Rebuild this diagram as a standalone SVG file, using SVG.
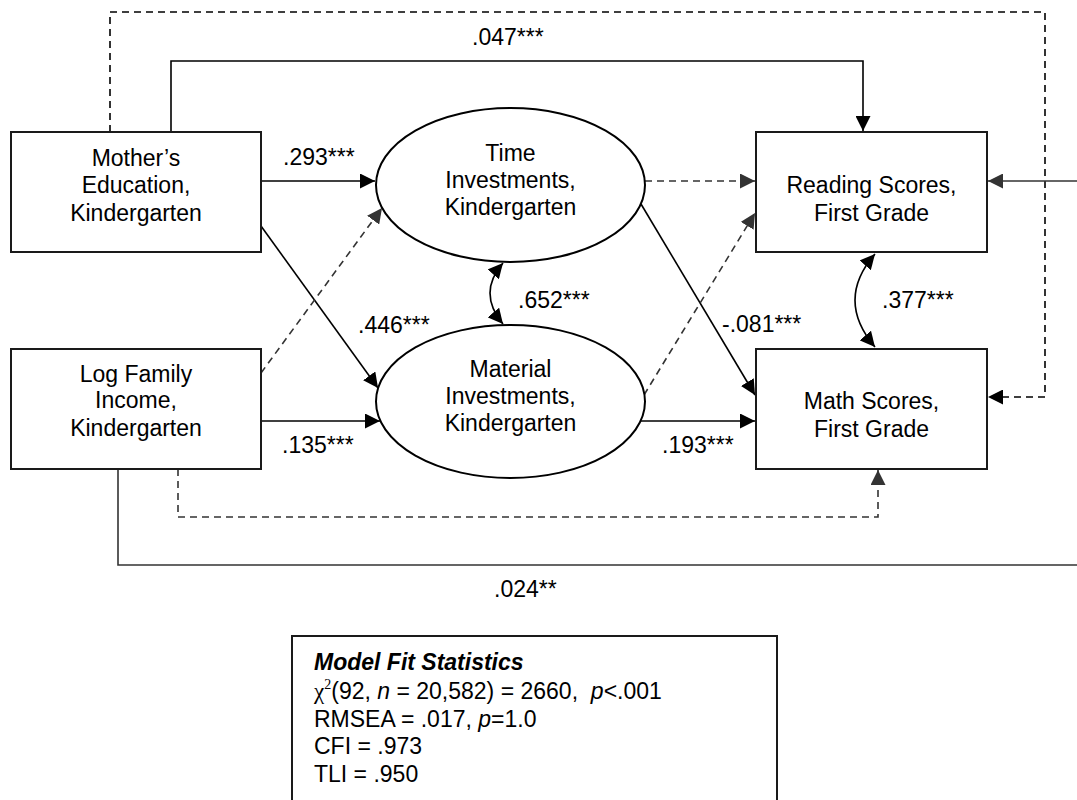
<svg xmlns="http://www.w3.org/2000/svg" width="1077" height="800" viewBox="0 0 1077 800">
<style>
text{font-family:"Liberation Sans",Arial,sans-serif;font-size:23px;fill:#000}
.lbl{text-anchor:start}
.ctr{text-anchor:middle}
.box{fill:#fff;stroke:#1a1a1a;stroke-width:2}
.ell{fill:#fff;stroke:#000;stroke-width:2}
.s{fill:none;stroke:#000;stroke-width:1.6}
.sg{fill:none;stroke:#333;stroke-width:1.6}
.d{fill:none;stroke:#000;stroke-width:1.6;stroke-dasharray:7 5}
.dg{fill:none;stroke:#333;stroke-width:1.6;stroke-dasharray:7 5}
.a{marker-end:url(#ah)}
.ag{marker-end:url(#ahg)}
.bi{marker-start:url(#ah);marker-end:url(#ah)}
</style>
<defs>
<marker id="ah" markerUnits="userSpaceOnUse" markerWidth="15" markerHeight="15" viewBox="0 0 15 15" refX="15" refY="7.5" orient="auto-start-reverse"><path d="M0,0 L15,7.5 L0,15 z" fill="#000"/></marker>
<marker id="ahg" markerUnits="userSpaceOnUse" markerWidth="15" markerHeight="15" viewBox="0 0 15 15" refX="15" refY="7.5" orient="auto-start-reverse"><path d="M0,0 L15,7.5 L0,15 z" fill="#333"/></marker>
</defs>
<rect width="1077" height="800" fill="#fff"/>

<g id="connectors">
<path class="d a" d="M110,132 V12 H1045 V397 H988"/>
<path class="s a" d="M171,132 V61 H863 V131"/>
<path class="sg" d="M118,469 V565 H1080"/>
<path class="sg ag" d="M1080,181 H988"/>
<path class="dg ag" d="M178,469 V517 H878 V470"/>
<path class="s a" d="M261,181 H375"/>
<path class="s a" d="M261,226 L378,388"/>
<path class="dg ag" d="M261,373 L382,208"/>
<path class="s a" d="M261,421 H380"/>
<path class="dg ag" d="M645,181 H755"/>
<path class="s a" d="M641,204 L755,395"/>
<path class="dg ag" d="M644,395 L755,213"/>
<path class="s a" d="M640,421 H755"/>
<path class="s bi" d="M503,263 Q477,293 503,324"/>
<path class="s bi" d="M875,254 Q835,300 875,347"/>
</g>

<g id="mother">
<rect class="box" x="11" y="132" width="250" height="120"/>
<text class="ctr" x="136" y="166">Mother’s</text>
<text class="ctr" x="136" y="193">Education,</text>
<text class="ctr" x="136" y="221">Kindergarten</text>
</g>
<g id="income">
<rect class="box" x="11" y="349" width="250" height="120"/>
<text class="ctr" x="136" y="382">Log Family</text>
<text class="ctr" x="136" y="408">Income,</text>
<text class="ctr" x="136" y="436">Kindergarten</text>
</g>
<g id="time">
<ellipse class="ell" cx="510.5" cy="185" rx="134.5" ry="77"/>
<text class="ctr" x="510.5" y="161">Time</text>
<text class="ctr" x="510.5" y="188">Investments,</text>
<text class="ctr" x="510.5" y="215">Kindergarten</text>
</g>
<g id="material">
<ellipse class="ell" cx="510.5" cy="401.5" rx="134.5" ry="76.5"/>
<text class="ctr" x="510.5" y="377">Material</text>
<text class="ctr" x="510.5" y="404">Investments,</text>
<text class="ctr" x="510.5" y="431">Kindergarten</text>
</g>
<g id="reading">
<rect class="box" x="756" y="132" width="231" height="120"/>
<text class="ctr" x="871.5" y="193">Reading Scores,</text>
<text class="ctr" x="871.5" y="221">First Grade</text>
</g>
<g id="math">
<rect class="box" x="756" y="349" width="231" height="120"/>
<text class="ctr" x="871.5" y="409">Math Scores,</text>
<text class="ctr" x="871.5" y="437">First Grade</text>
</g>

<g id="labels">
<text class="lbl" x="472" y="45">.047***</text>
<text class="lbl" x="283" y="165">.293***</text>
<text class="lbl" x="358" y="333">.446***</text>
<text class="lbl" x="282" y="453">.135***</text>
<text class="lbl" x="518" y="308">.652***</text>
<text class="lbl" x="882" y="308">.377***</text>
<text class="lbl" x="722" y="332">-.081***</text>
<text class="lbl" x="662" y="453">.193***</text>
<text class="lbl" x="494" y="597">.024**</text>
</g>

<g id="fit">
<rect class="box" x="292" y="636" width="485" height="180"/>
<text x="314" y="670" font-weight="bold" font-style="italic">Model Fit Statistics</text>
<text x="314" y="699"><tspan font-family="Liberation Serif,serif">χ</tspan><tspan font-family="Liberation Serif,serif" font-size="14" dy="-10">2</tspan><tspan dy="10">(92, </tspan><tspan font-style="italic">n</tspan> = 20,582) = 2660,&#160; <tspan font-style="italic">p</tspan>&lt;.001</text>
<text x="314" y="727">RMSEA = .017, <tspan font-style="italic">p</tspan>=1.0</text>
<text x="314" y="754">CFI = .973</text>
<text x="314" y="782">TLI = .950</text>
</g>
</svg>
